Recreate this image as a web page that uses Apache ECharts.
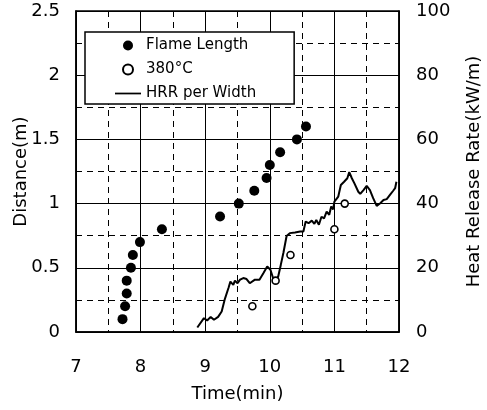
<!DOCTYPE html>
<html>
<head>
<meta charset="utf-8">
<script src="https://cdn.jsdelivr.net/npm/echarts@6/dist/echarts.min.js"></script>
<style>
  html, body { margin: 0; padding: 0; background: #fff; }
  #chart { width: 487px; height: 410px; }
</style>
</head>
<body>
<div id="chart"></div>
<script>
// flame length (time min, distance m)
const flameTime = [7.72, 7.76, 7.785, 7.785, 7.85, 7.88, 7.99, 8.33, 9.23, 9.52, 9.76, 9.95, 10.0, 10.16, 10.42, 10.56]
const flameDist = [0.1, 0.2, 0.3, 0.4, 0.5, 0.6, 0.7, 0.8, 0.9, 1.0, 1.1, 1.2, 1.3, 1.4, 1.5, 1.6]
// 380°C front
const tempTime = [9.73, 10.09, 10.32, 11.0, 11.16]
const tempDist = [0.2, 0.4, 0.6, 0.8, 1.0]
// HRR per width (kW/m)
const hrrTime = [8.878, 8.98, 9.03, 9.085, 9.136, 9.2, 9.255, 9.3, 9.36, 9.39, 9.435, 9.46, 9.5, 9.54, 9.59, 9.64, 9.69, 9.72, 9.77, 9.84, 9.9, 9.96, 10.01, 10.05, 10.1, 10.13, 10.17, 10.21, 10.26,
  10.31, 10.39, 10.47, 10.52, 10.555, 10.6, 10.65, 10.69, 10.72, 10.76, 10.8, 10.84, 10.88, 10.92, 10.95, 10.98, 11.0, 11.06, 11.1, 11.15, 11.2, 11.23, 11.27, 11.31, 11.37, 11.4, 11.45, 11.5, 11.55, 11.6, 11.655, 11.71, 11.76, 11.81, 11.86, 11.91, 11.94, 11.96]
const hrrValue = [1.4, 4.3, 3.6, 4.7, 3.8, 4.7, 6.4, 10.0, 13.7, 15.7, 14.7, 16.0, 15.2, 16.3, 16.8, 16.5, 15.2, 14.7, 16.3, 16.3, 18.3, 20.4, 19.4, 16.8, 15.7, 17.3, 20.9, 24.6, 29.9,
  30.8, 31.0, 31.3, 31.3, 34.4, 33.9, 34.7, 33.7, 34.9, 33.4, 35.9, 35.4, 37.5, 36.5, 39.1, 38.2, 40.6, 42.2, 45.8, 46.8, 47.9, 49.8, 47.9, 46.3, 43.7, 43.0, 44.2, 45.5, 44.2, 41.7, 39.3, 40.1, 41.1, 41.4, 42.7, 44.0, 44.8, 46.8]

const font = 'DejaVu Sans'
const chart = echarts.init(document.getElementById('chart'))

const solid = { lineStyle: { color: '#000', width: 1 } }
const dashed = { lineStyle: { color: '#000', width: 1, type: [6, 5] } }

chart.setOption({
  animation: false,
  textStyle: { fontFamily: font, color: '#000' },
  grid: {
    left: 76, right: 88, top: 11, bottom: 78,
    containLabel: false, outerBoundsMode: 'none',
    show: true, borderColor: '#000', borderWidth: 1.5
  },
  legend: {
    orient: 'vertical',
    left: 85, top: 32,
    padding: [6, 38, 3, 30],
    itemGap: 9,
    itemWidth: 26, itemHeight: 10,
    backgroundColor: '#fff',
    borderColor: '#000', borderWidth: 1.5, borderRadius: 0,
    textStyle: { fontFamily: font, fontSize: 15, color: '#000' },
    data: [
      { name: 'Flame Length', icon: 'circle' },
      { name: '380°C', icon: 'circle' },
      { name: 'HRR per Width', icon: 'path://M0,0H30V2H0Z' }
    ]
  },
  xAxis: {
    type: 'value', min: 7, max: 12, interval: 1,
    name: 'Time(min)', nameLocation: 'middle', nameGap: 53,
    nameTextStyle: { fontSize: 18, color: '#000' },
    axisLine: { show: true, lineStyle: { color: '#000', width: 1.5 } },
    axisTick: { show: false },
    axisLabel: { fontSize: 18, color: '#000', margin: 26 },
    splitLine: solid,
    minorTick: { show: false, splitNumber: 2 },
    minorSplitLine: Object.assign({ show: true }, dashed)
  },
  yAxis: [
    {
      type: 'value', min: 0, max: 2.5, interval: 0.5,
      name: 'Distance(m)', nameLocation: 'middle', nameGap: 46,
      nameMoveOverlap: false,
      nameTextStyle: { fontSize: 18, color: '#000' },
      axisLine: { show: true, lineStyle: { color: '#000', width: 1.5 } },
      axisTick: { show: false },
      axisLabel: { fontSize: 18, color: '#000', margin: 16 },
      splitLine: solid,
      minorTick: { show: false, splitNumber: 2 },
      minorSplitLine: Object.assign({ show: true }, dashed)
    },
    {
      type: 'value', min: 0, max: 100, interval: 20,
      name: 'Heat Release Rate(kW/m)', nameLocation: 'middle', nameGap: 66,
      nameTextStyle: { fontSize: 18, color: '#000' },
      position: 'right',
      axisLine: { show: true, lineStyle: { color: '#000', width: 1.5 } },
      axisTick: { show: false },
      axisLabel: { fontSize: 18, color: '#000', margin: 17 },
      splitLine: { show: false }
    }
  ],
  series: [
    {
      name: 'Flame Length', type: 'scatter', yAxisIndex: 0,
      symbol: 'circle', symbolSize: 10,
      itemStyle: { color: '#000', opacity: 1 },
      data: flameTime.map((t, i) => [t, flameDist[i]]),
      z: 4
    },
    {
      name: '380°C', type: 'scatter', yAxisIndex: 0,
      symbol: 'circle', symbolSize: 7,
      itemStyle: { color: '#fff', borderColor: '#000', borderWidth: 1.6, opacity: 1 },
      data: tempTime.map((t, i) => [t, tempDist[i]]),
      z: 5
    },
    {
      name: 'HRR per Width', type: 'line', yAxisIndex: 1,
      symbol: 'none', showSymbol: false,
      lineStyle: { color: '#000', width: 2 },
      itemStyle: { color: '#000' },
      data: hrrTime.map((t, i) => [t, hrrValue[i]]),
      z: 3
    }
  ]
})
</script>
</body>
</html>
